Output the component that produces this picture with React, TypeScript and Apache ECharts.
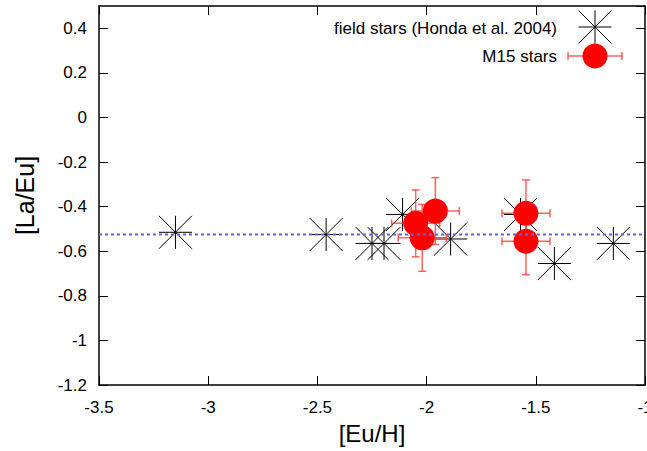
import React, { useEffect, useRef } from 'react';
import * as echarts from 'echarts';

const xMin = -3.5;
const xMax = -1;
const xInterval = 0.5;
const yMin = -1.2;
const yMax = 0.5;
const yInterval = 0.2;

const fieldStarsX = [-3.15, -2.46, -2.25, -2.195, -2.11, -1.89, -1.57, -1.415, -1.145];
const fieldStarsY = [-0.515, -0.525, -0.565, -0.565, -0.435, -0.545, -0.435, -0.655, -0.565];

const m15X = [-1.96, -2.05, -2.02, -1.545, -1.545];
const m15Y = [-0.42, -0.475, -0.54, -0.43, -0.555];
const m15XErr = [0.11, 0.11, 0.11, 0.11, 0.11];
const m15YErr = [0.15, 0.15, 0.15, 0.15, 0.15];

const meanLaEu = -0.525;

const FONT = '"Liberation Sans", Arial, sans-serif';
const ERR_COLOR = 'rgba(255,60,60,0.8)';
const STAR_PATH = 'path://M0,0L20,20M0,20L20,0M0,10L20,10M10,0L10,20';

export default function App() {
  const ref = useRef<HTMLDivElement>(null);

  useEffect(() => {
    if (!ref.current) return;
    const chart = echarts.init(ref.current, undefined, { renderer: 'svg', width: 647, height: 451 });

    const starData = fieldStarsX.map((x, i) => [x, fieldStarsY[i]]);
    const m15Data = m15X.map((x, i) => [x, m15Y[i]]);
    const errData = m15X.map((x, i) => [x, m15Y[i], m15XErr[i], m15YErr[i]]);

    const axisCommon = {
      axisLine: { show: true, onZero: false, lineStyle: { color: '#000', width: 1.5 } },
      axisTick: { show: true, inside: true, length: 9, lineStyle: { color: '#000', width: 1 } },
      splitLine: { show: false },
    };

    const legendStar = (cx: number, cy: number, r: number) => ({
      type: 'group',
      children: [
        { type: 'line', shape: { x1: cx - r, y1: cy, x2: cx + r, y2: cy }, style: { stroke: '#000', lineWidth: 1 } },
        { type: 'line', shape: { x1: cx, y1: cy - r, x2: cx, y2: cy + r }, style: { stroke: '#000', lineWidth: 1 } },
        { type: 'line', shape: { x1: cx - r, y1: cy - r, x2: cx + r, y2: cy + r }, style: { stroke: '#000', lineWidth: 1 } },
        { type: 'line', shape: { x1: cx - r, y1: cy + r, x2: cx + r, y2: cy - r }, style: { stroke: '#000', lineWidth: 1 } },
      ],
    });

    chart.setOption({
      animation: false,
      backgroundColor: '#fff',
      grid: { left: 99, right: 2, top: 6, bottom: 66, containLabel: false, outerBoundsMode: 'none' },
      xAxis: [
        {
          type: 'value',
          min: xMin,
          max: xMax,
          interval: xInterval,
          position: 'bottom',
          name: '[Eu/H]',
          nameLocation: 'middle',
          nameGap: 36,
          nameTextStyle: { fontFamily: FONT, fontSize: 24, color: '#000' },
          axisLabel: { show: true, margin: 14, fontFamily: FONT, fontSize: 17, color: '#000' },
          ...axisCommon,
        },
        {
          type: 'value',
          min: xMin,
          max: xMax,
          interval: xInterval,
          position: 'top',
          axisLabel: { show: false },
          ...axisCommon,
        },
      ],
      yAxis: [
        {
          type: 'value',
          min: yMin,
          max: yMax,
          interval: yInterval,
          position: 'left',
          name: '[La/Eu]',
          nameLocation: 'middle',
          nameGap: 62,
          nameRotate: 90,
          nameTextStyle: { fontFamily: FONT, fontSize: 25, color: '#000' },
          axisLabel: { show: true, margin: 12, showMaxLabel: false, fontFamily: FONT, fontSize: 17, color: '#000' },
          ...axisCommon,
        },
        {
          type: 'value',
          min: yMin,
          max: yMax,
          interval: yInterval,
          position: 'right',
          axisLabel: { show: false },
          ...axisCommon,
        },
      ],
      series: [
        {
          name: 'field stars (Honda et al. 2004)',
          type: 'scatter',
          xAxisIndex: 0,
          yAxisIndex: 0,
          symbol: STAR_PATH,
          symbolSize: 33,
          itemStyle: { color: 'rgba(0,0,0,0)', borderColor: '#000', borderWidth: 1, opacity: 1 },
          data: starData,
          z: 2,
        },
        {
          name: 'M15 errors',
          type: 'custom',
          xAxisIndex: 0,
          yAxisIndex: 0,
          renderItem: (_params: any, api: any) => {
            const x = api.value(0);
            const y = api.value(1);
            const xe = api.value(2);
            const ye = api.value(3);
            const c = api.coord([x, y]);
            const l = api.coord([x - xe, y]);
            const r = api.coord([x + xe, y]);
            const t = api.coord([x, y + ye]);
            const b = api.coord([x, y - ye]);
            const cap = 4;
            const style = { stroke: ERR_COLOR, lineWidth: 1.5 };
            return {
              type: 'group',
              children: [
                { type: 'line', shape: { x1: l[0], y1: c[1], x2: r[0], y2: c[1] }, style },
                { type: 'line', shape: { x1: l[0], y1: c[1] - cap, x2: l[0], y2: c[1] + cap }, style },
                { type: 'line', shape: { x1: r[0], y1: c[1] - cap, x2: r[0], y2: c[1] + cap }, style },
                { type: 'line', shape: { x1: c[0], y1: t[1], x2: c[0], y2: b[1] }, style },
                { type: 'line', shape: { x1: c[0] - cap, y1: t[1], x2: c[0] + cap, y2: t[1] }, style },
                { type: 'line', shape: { x1: c[0] - cap, y1: b[1], x2: c[0] + cap, y2: b[1] }, style },
              ],
            };
          },
          data: errData,
          z: 3,
        },
        {
          name: 'M15 stars',
          type: 'scatter',
          xAxisIndex: 0,
          yAxisIndex: 0,
          symbol: 'circle',
          symbolSize: 25,
          itemStyle: { color: '#ff0000', opacity: 1 },
          data: m15Data,
          z: 4,
        },
        {
          name: 'mean',
          type: 'line',
          xAxisIndex: 0,
          yAxisIndex: 0,
          symbol: 'none',
          lineStyle: { color: '#6060ff', width: 2, type: [3, 3] },
          data: [
            [xMin, meanLaEu],
            [xMax, meanLaEu],
          ],
          z: 5,
        },
      ],
      graphic: [
        {
          type: 'text',
          x: 557,
          y: 28,
          style: {
            text: 'field stars (Honda et al. 2004)',
            fontFamily: FONT,
            fontSize: 17,
            fill: '#000',
            align: 'right',
            verticalAlign: 'middle',
          },
        },
        legendStar(595, 27, 16.5),
        {
          type: 'text',
          x: 557,
          y: 56,
          style: {
            text: 'M15 stars',
            fontFamily: FONT,
            fontSize: 17,
            fill: '#000',
            align: 'right',
            verticalAlign: 'middle',
          },
        },
        { type: 'line', shape: { x1: 568, y1: 56, x2: 622, y2: 56 }, style: { stroke: ERR_COLOR, lineWidth: 1.5 } },
        { type: 'line', shape: { x1: 568, y1: 52, x2: 568, y2: 60 }, style: { stroke: ERR_COLOR, lineWidth: 1.5 } },
        { type: 'line', shape: { x1: 622, y1: 52, x2: 622, y2: 60 }, style: { stroke: ERR_COLOR, lineWidth: 1.5 } },
        { type: 'circle', shape: { cx: 595, cy: 56, r: 12.5 }, style: { fill: '#ff0000' } },
      ],
    });

    return () => {
      chart.dispose();
    };
  }, []);

  return (
    <div
      ref={ref}
      style={{ position: 'fixed', left: 0, top: 0, width: 647, height: 451, background: '#fff' }}
    />
  );
}
